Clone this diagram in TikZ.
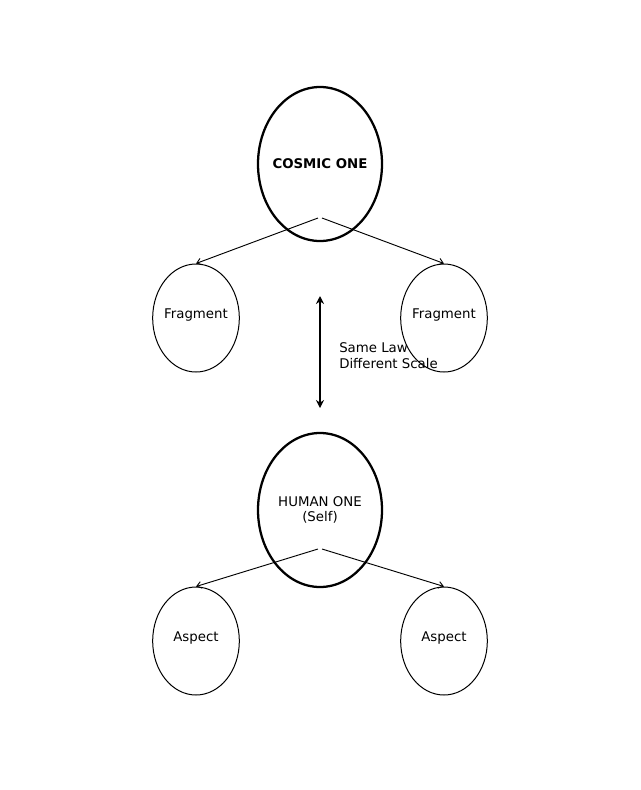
\documentclass[tikz,border=0pt]{standalone}
\usepackage{fontspec}
\setmainfont{DejaVu Sans}
\usetikzlibrary{arrows.meta,shapes.geometric}

\tikzset{
  bigone/.style={ellipse,draw,line width=1.7pt,minimum width=93pt,minimum height=115.5pt,inner sep=0pt},
  part/.style={ellipse,draw,line width=0.75pt,minimum width=65pt,minimum height=81pt,inner sep=0pt},
  link/.style={-{Straight Barb[length=3.5pt,width=5pt]},line width=0.7pt}
}

\begin{document}
\begin{tikzpicture}[x=0.75pt,y=-0.75pt,>=Stealth,font=\normalsize]
\useasboundingbox (0,0) rectangle (640,790);
% the two wholes
\node[bigone,label={[font=\bfseries]center:COSMIC ONE}] (cosmic) at (320,164) {};
\node[bigone,label={[align=center]center:HUMAN ONE\\[-1pt](Self)}] (human) at (320,510) {};
% their parts
\foreach \side/\x in {L/196,R/444}{
  \node[part,label={[yshift=2pt]center:Fragment}] (frag\side) at (\x,318) {};
  \node[part,label={[yshift=2pt]center:Aspect}] (aspect\side) at (\x,641) {};
}
\coordinate (cosmicL) at (318,218);
\coordinate (cosmicR) at (322,218);
\coordinate (humanL) at (318,549);
\coordinate (humanR) at (322,549);
\draw[link] (cosmicL) -- (fragL.north);
\draw[link] (cosmicR) -- (fragR.north);
\draw[link] (humanL) -- (aspectL.north);
\draw[link] (humanR) -- (aspectR.north);
% same law, different scale
\coordinate (scaleTop) at (320,296);
\coordinate (scaleBot) at (320,408);
\draw[{Stealth[length=6pt,width=6pt]}-{Stealth[length=6pt,width=6pt]},line width=1.6pt] (scaleTop) -- (scaleBot);
\node[anchor=west,align=left,inner sep=0pt] (scale) at (339,356) {Same Law\\Different Scale};
\end{tikzpicture}
\end{document}
